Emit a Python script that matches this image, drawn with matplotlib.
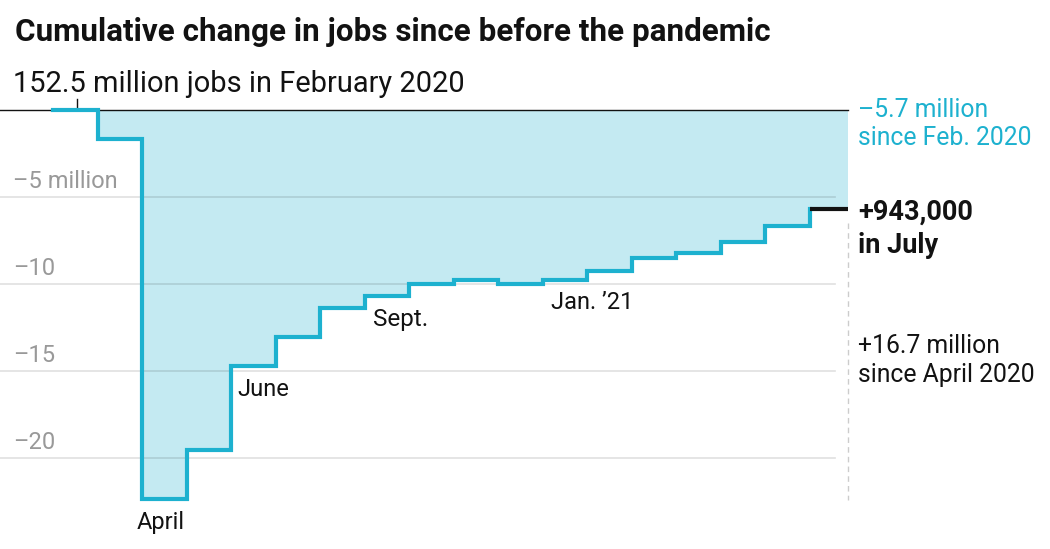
import matplotlib
matplotlib.use("Agg")
import matplotlib.pyplot as plt
import numpy as np

# ---------------- data ----------------
months = ["Feb. 2020", "Mar.", "April", "May", "June", "July", "Aug.", "Sept.",
          "Oct.", "Nov.", "Dec.", "Jan. '21", "Feb.", "Mar.", "April", "May",
          "June", "July"]
cum_change = [0.0, -1.69, -22.36, -19.56, -14.71, -13.03, -11.38, -10.67,
              -10.02, -9.75, -10.02, -9.79, -9.25, -8.49, -8.22, -7.60,
              -6.65, -5.71]          # millions of jobs vs Feb. 2020
y_ticks = [-5, -10, -15, -20]
y_tick_labels = ["\u20135 million", "\u201310", "\u201315", "\u201320"]

# ---------------- style ----------------
TEAL = "#1db1cf"
FILL = "#c4eaf2"
GRAY = "#999999"
BLACK = "#121212"
FONT = "Roboto"
plt.rcParams["font.family"] = [FONT, "DejaVu Sans"]

W, H = 1050, 549
fig = plt.figure(figsize=(W / 100, H / 100), dpi=100)
ax = fig.add_axes([0, 0, 1, 1])

# pixel mapping: x_px = X0 + DX*i ; y_px = Y0 - DY*v
X0, DX = 53.0, 44.5
Y0, DY = 110.0, 17.4
ax.set_xlim(-X0 / DX, (W - X0) / DX)
ax.set_ylim((Y0 - H) / DY, Y0 / DY)
ax.axis("off")

x = np.arange(len(cum_change))
x_end = (848 - X0) / DX
grid_end = (835 - X0) / DX
x_left = -X0 / DX

# fill
xf = np.append(x, x_end)
yf = np.append(cum_change, cum_change[-1])
ax.fill_between(xf, yf, 0, step="post", color=FILL, lw=0, zorder=1)

# gridlines (semi-transparent so they show over the fill)
for t in y_ticks:
    ax.plot([x_left, grid_end], [t, t], color="black", alpha=0.12, lw=1.2, zorder=2)

# zero line
ax.plot([x_left, x_end], [0, 0], color=BLACK, lw=1.0, zorder=3)
# Feb tick
ax.plot([0.54, 0.54], [0, 11 / DY], color=BLACK, lw=1.0, zorder=3)

# step line
ax.step(x, cum_change, where="post", color=TEAL, lw=3.0, zorder=4,
        solid_joinstyle="miter")
ax.plot([x[-1], x_end], [cum_change[-1], cum_change[-1]], color=BLACK, lw=3.0,
        zorder=5, solid_capstyle="butt")

# dashed end marker
ax.plot([x_end, x_end], [(Y0 - 223) / DY, (Y0 - 500) / DY], color="#cccccc",
        lw=1.0, ls=(0, (4, 3)), zorder=2)

# y tick labels
for t, lab in zip(y_ticks, y_tick_labels):
    ax.text(x_left + 13 / DX, t + 9.3 / DY, lab, color=GRAY, fontsize=17,
            ha="left", va="baseline", zorder=6)

# month labels
MS = 17
ax.text(2.42, cum_change[2] - 30 / DY, "April", fontsize=MS, color=BLACK,
        ha="center", va="baseline")
ax.text(4.15, cum_change[4] - 30 / DY, "June", fontsize=MS, color=BLACK,
        ha="left", va="baseline")
ax.text(7.18, cum_change[7] - 30 / DY, "Sept.", fontsize=MS + 0.5, color=BLACK,
        ha="left", va="baseline")
ax.text(11.18, cum_change[11] - 29 / DY, "Jan. \u201921", fontsize=MS,
        color=BLACK, ha="left", va="baseline")

# right annotations
xr = (858 - X0) / DX
def yv(px):
    return (Y0 - px) / DY
RS = 17.8
ax.text(xr, yv(116.7), "\u20135.7 million", color=TEAL, fontsize=RS, va="baseline")
ax.text(xr, yv(145), "since Feb. 2020", color=TEAL, fontsize=RS, va="baseline")
ax.text(xr, yv(220), "+943,000", color=BLACK, fontsize=19.5, fontweight="bold", va="baseline")
ax.text(xr, yv(253.3), "in July", color=BLACK, fontsize=19.5, fontweight="bold", va="baseline")
ax.text(xr, yv(352.7), "+16.7 million", color=BLACK, fontsize=RS, va="baseline")
ax.text(xr, yv(381.7), "since April 2020", color=BLACK, fontsize=RS, va="baseline")

# title / subtitle
fig.text(15 / W, 1 - 41 / H, "Cumulative change in jobs since before the pandemic",
         fontsize=22.55, fontweight="bold", color=BLACK, ha="left", va="baseline")
fig.text(13 / W, 1 - 92 / H, "152.5 million jobs in February 2020",
         fontsize=20.9, color=BLACK, ha="left", va="baseline")

fig.savefig("out.png", dpi=100)
